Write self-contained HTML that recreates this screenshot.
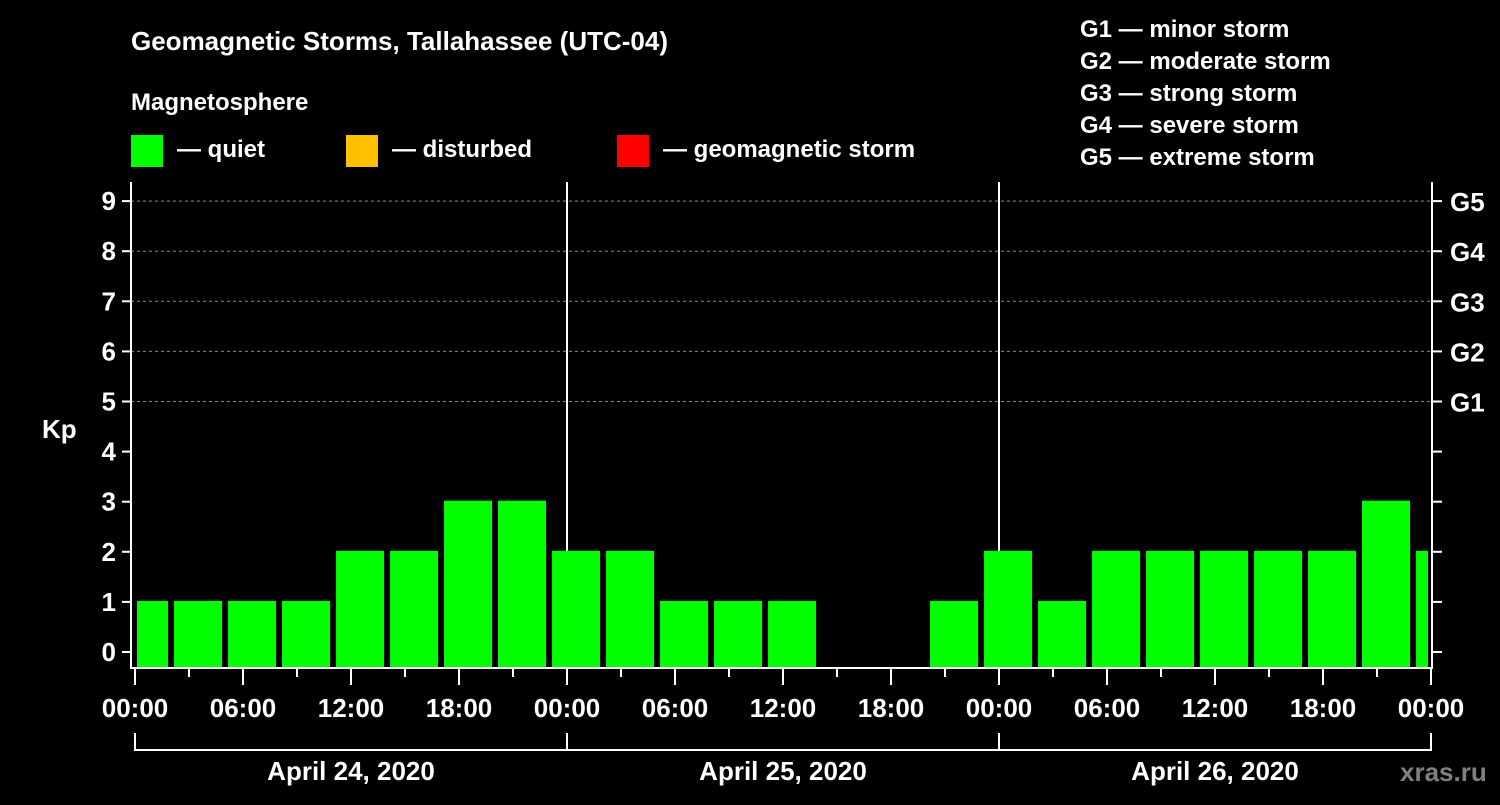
<!DOCTYPE html>
<html><head><meta charset="utf-8"><style>
html,body{margin:0;padding:0;background:#000;}
svg text{font-family:"Liberation Sans",Arial,sans-serif;font-weight:bold;fill:#fff;}
</style></head><body>
<svg id="chart" width="1500" height="800" viewBox="0 0 1500 800" xmlns="http://www.w3.org/2000/svg">
<rect width="1500" height="800" fill="#000"/>
<text x="131" y="50" font-size="26">Geomagnetic Storms, Tallahassee (UTC-04)</text>
<text x="131" y="110" font-size="24">Magnetosphere</text>
<g><rect x="131" y="135" width="32" height="32" fill="#00ff00"/><text x="177" y="157" font-size="24">— quiet</text></g>
<g><rect x="346" y="135" width="32" height="32" fill="#ffc000"/><text x="392" y="157" font-size="24">— disturbed</text></g>
<g><rect x="617" y="135" width="32" height="32" fill="#ff0000"/><text x="663" y="157" font-size="24">— geomagnetic storm</text></g>
<g font-size="24">
<text x="1080" y="37">G1 — minor storm</text>
<text x="1080" y="69">G2 — moderate storm</text>
<text x="1080" y="101">G3 — strong storm</text>
<text x="1080" y="133">G4 — severe storm</text>
<text x="1080" y="165">G5 — extreme storm</text>
</g>
<text x="42" y="438" font-size="26">Kp</text>
<text x="1400" y="781" font-size="26" style="fill:#808080">xras.ru</text>
<g id="grid"></g><g id="bars"></g><g id="axes"></g>
</svg>
<script>
const kpValues = [1,1,1,1,2,2,3,3,2,2,1,1,1,null,null,1,2,1,2,2,2,2,2,3,2];
const yTicks = [0,1,2,3,4,5,6,7,8,9];
const gLabels = ["","","","","","G1","G2","G3","G4","G5"];
const xTickLabels = ["00:00","06:00","12:00","18:00","00:00","06:00","12:00","18:00","00:00","06:00","12:00","18:00","00:00"];
const dayLabels = ["April 24, 2020","April 25, 2020","April 26, 2020"];
const NS="http://www.w3.org/2000/svg";
const L=131,R=1432,T=182,B=668,X0=135,DAY=432;
const yS=k=>652-50.1*k;
const xS=h=>X0+h*DAY/24;
function mk(tag,attrs,parent,txt){const e=document.createElementNS(NS,tag);for(const k in attrs)e.setAttribute(k,attrs[k]);if(txt!==undefined)e.textContent=txt;parent.appendChild(e);return e;}
const grid=document.getElementById('grid'),bars=document.getElementById('bars'),axes=document.getElementById('axes');
yTicks.forEach((k,i)=>{
  if(k>=5){const g=mk('line',{x1:L,x2:R,y1:yS(k),y2:yS(k),stroke:'#888','stroke-dasharray':'3,3','stroke-width':1},grid);
  
  }
  const t=mk('line',{x1:122,x2:L,y1:yS(k),y2:yS(k),stroke:'#fff','stroke-width':2},axes);
  
  
  const lb=mk('text',{x:116,y:yS(k)+9,'font-size':26,'text-anchor':'end'},axes,String(k));
  
  
  const rt=mk('line',{x1:R,x2:1442,y1:yS(k),y2:yS(k),stroke:'#fff','stroke-width':2},axes);
  
  
  if(gLabels[i]){const gl=mk('text',{x:1450,y:yS(k)+10,'font-size':26},axes,gLabels[i]);
  
  }
});
kpValues.forEach((v,i)=>{
  if(v===null)return;
  let x1=xS(3*i-0.83),x2=x1+48;
  x1=Math.max(x1,137);x2=Math.min(x2,1428);
  const r=mk('rect',{x:x1,y:yS(v)-1,width:x2-x1,height:B-yS(v)+1,fill:v>=5?'#ff0000':(v>=4?'#ffc000':'#00ff00')},bars);
  
  
});
for(let d=1;d<3;d++){const l=mk('line',{x1:xS(24*d),x2:xS(24*d),y1:T,y2:B,stroke:'#fff','stroke-width':2},grid);

}
const frame=mk('path',{d:`M${L} ${T}V${B}H${R}V${T}`,stroke:'#fff','stroke-width':2,fill:'none'},axes);


for(let h=0;h<=72;h+=3){const maj=h%6===0;const t=mk('line',{x1:xS(h),x2:xS(h),y1:B,y2:maj?685:677,stroke:'#fff','stroke-width':2},axes);

}
xTickLabels.forEach((s,i)=>{const t=mk('text',{x:xS(6*i),y:717,'font-size':26,'text-anchor':'middle'},axes,s);

});
dayLabels.forEach((s,i)=>{
  const br=mk('path',{d:`M${xS(24*i)} 733V750H${xS(24*i+24)}V733`,stroke:'#fff','stroke-width':2,fill:'none'},axes);
  
  
  const t=mk('text',{x:xS(24*i+12),y:780,'font-size':26,'text-anchor':'middle'},axes,s);
  
  
});
</script>
</body></html>
